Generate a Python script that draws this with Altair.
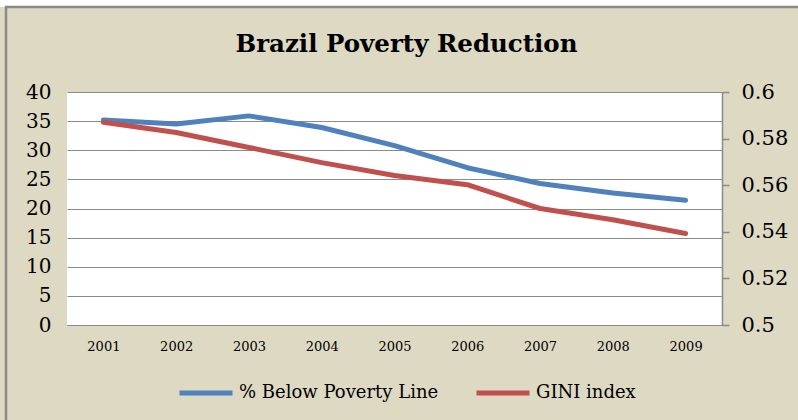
import altair as alt
import pandas as pd

years = ["2001", "2002", "2003", "2004", "2005", "2006", "2007", "2008", "2009"]
poverty = [35.2, 34.5, 35.9, 33.9, 30.8, 27.0, 24.3, 22.65, 21.4]
gini = [0.587, 0.5826, 0.5762, 0.5697, 0.5642, 0.5602, 0.5500, 0.5452, 0.5393]
series_names = ["% Below Poverty Line", "GINI index"]
colors = ["#4F81BD", "#C0504D"]
left_ticks = [0, 5, 10, 15, 20, 25, 30, 35, 40]
right_ticks = [0.5, 0.52, 0.54, 0.56, 0.58, 0.6]

rows = []
for yr, p, g in zip(years, poverty, gini):
    rows.append({"year": yr, "series": series_names[0], "value": p})
    rows.append({"year": yr, "series": series_names[1], "value": g})
df = pd.DataFrame(rows)

FONT = "DejaVu Serif"
W, H = 655, 233
GRAY = "#8a8a8a"

color = alt.Color(
    "series:N",
    scale=alt.Scale(domain=series_names, range=colors),
    legend=alt.Legend(
        title=None, orient="none", direction="horizontal",
        legendX=110, legendY=272,
        symbolType="stroke", symbolSize=2809, symbolStrokeWidth=5,
        labelFont=FONT, labelFontSize=18, labelColor="black",
        labelOffset=4, columnPadding=27, labelLimit=400,
    ),
)
x = alt.X(
    "year:O", sort=years,
    scale=alt.Scale(type="point", padding=0.5),
    axis=alt.Axis(title=None, labelAngle=0, ticks=False, domain=True,
                  domainColor=GRAY, labelFont=FONT, labelFontSize=13,
                  labelColor="black", labelPadding=15),
)

line_base = dict(strokeWidth=5, strokeCap="round", strokeJoin="round")

left = alt.Chart(df).transform_filter(
    alt.datum.series == series_names[0]
).mark_line(**line_base).encode(
    x=x,
    y=alt.Y("value:Q", scale=alt.Scale(domain=[0, 40], nice=False, zero=False),
            axis=alt.Axis(title=None, orient="left", values=left_ticks, grid=True,
                          gridColor=GRAY, gridWidth=1.2, ticks=False, domain=False,
                          labelFont=FONT, labelFontSize=20, labelColor="black",
                          labelPadding=16)),
    color=color,
)

right = alt.Chart(df).transform_filter(
    alt.datum.series == series_names[1]
).mark_line(**line_base).encode(
    x=x,
    y=alt.Y("value:Q", scale=alt.Scale(domain=[0.5, 0.6], nice=False, zero=False),
            axis=alt.Axis(title=None, orient="right", values=right_ticks, grid=False,
                          format="~g", domain=True, domainColor=GRAY, domainWidth=1.5,
                          ticks=True, tickColor=GRAY, tickSize=7, tickWidth=1.5,
                          labelFont=FONT, labelFontSize=21, labelColor="black",
                          labelPadding=12)),
    color=color,
)

one = alt.Data(values=[{"k": 1}])
frame_white = alt.Chart(one).mark_rect(fill=None, stroke="white", strokeWidth=8).encode(
    x=alt.value(-71), y=alt.value(-89), x2=alt.value(W + 200), y2=alt.value(H + 200))
frame_gray = alt.Chart(one).mark_rect(fill=None, stroke=GRAY, strokeWidth=2.5).encode(
    x=alt.value(-61), y=alt.value(-85), x2=alt.value(W + 200), y2=alt.value(H + 200))

chart = alt.layer(left, right, frame_white, frame_gray).resolve_scale(
    y="independent"
).properties(
    width=W, height=H,
    padding={"left": 67, "top": 92, "right": 76, "bottom": 95},
    autosize=alt.AutoSizeParams(type="none"),
    background="#DDD9C3",
    title=alt.TitleParams("Brazil Poverty Reduction", font=FONT, fontSize=24.5,
                          fontWeight="bold", color="black", anchor="middle",
                          frame="group", dx=12, offset=0, dy=58),
).configure_view(fill="white", stroke=None)

chart.save("out.html", embed_options={"renderer": "svg", "actions": False})
